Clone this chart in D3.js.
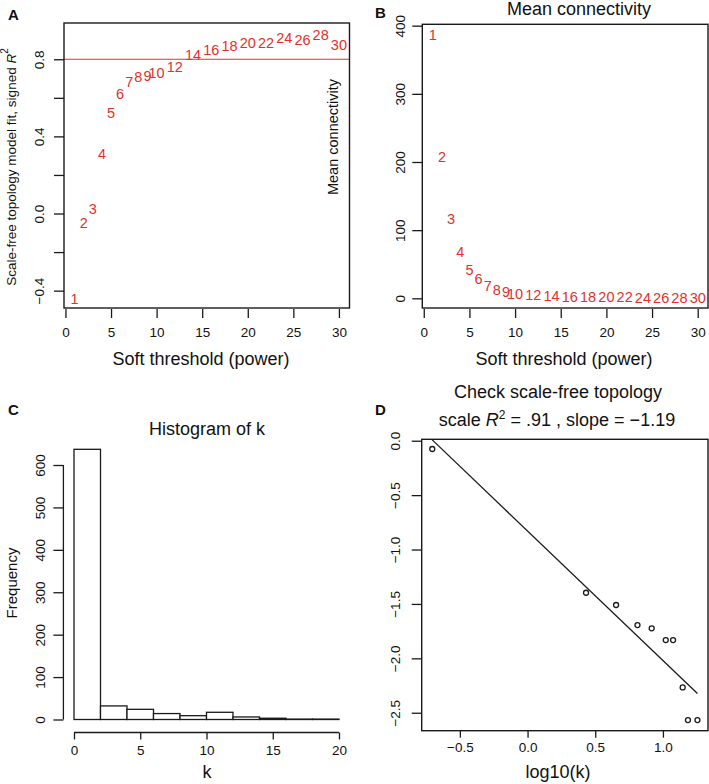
<!DOCTYPE html>
<html>
<head>
<meta charset="utf-8">
<script src="https://cdn.jsdelivr.net/npm/d3@7"></script>
<style>
body { margin: 0; background: #fff; }
svg text { font-family: "Liberation Sans", Arial, sans-serif; fill: #111; }
</style>
</head>
<body>
<div id="chart"></div>
<script>
// datos de los cuatro paneles
var powers = [1, 2, 3, 4, 5, 6, 7, 8, 9, 10, 12, 14, 16, 18, 20, 22, 24, 26, 28, 30];
var scaleFitR2 = [-0.44, -0.049, 0.026, 0.309, 0.524, 0.62, 0.684, 0.707, 0.714, 0.728,
                  0.762, 0.822, 0.848, 0.87, 0.884, 0.888, 0.909, 0.90, 0.926, 0.874];
var meanConnectivity = [387, 208, 117, 68, 42.5, 28, 18, 13.2, 9.7, 7.3,
                        4.8, 3.5, 2.8, 2.2, 1.9, 1.7, 1.5, 1.4, 1.3, 1.2];
var r2Cut = 0.8;
var histBreaks = [0, 2, 4, 6, 8, 10, 12, 14, 16, 18, 20];
var histCounts = [637, 32, 24, 14, 9, 17, 6, 3, 1, 1];
var logK = [-0.704, 0.432, 0.654, 0.812, 0.917, 1.021, 1.075, 1.146, 1.185, 1.255];
var logPk = [-0.076, -1.397, -1.51, -1.694, -1.724, -1.832, -1.832, -2.267, -2.567, -2.567];
var fitSlope = -1.19;
var fitIntercept = -0.83;
var fitR2Label = '.91';

var xTicksPower = [0, 5, 10, 15, 20, 25, 30];
var yTicksA = [-0.4, -0.2, 0, 0.2, 0.4, 0.6, 0.8];
var yTicksB = [0, 100, 200, 300, 400];
var xTicksC = [0, 5, 10, 15, 20];
var yTicksC = [0, 100, 200, 300, 400, 500, 600];
var xTicksD = [-0.5, 0, 0.5, 1.0];
var yTicksD = [0, -0.5, -1.0, -1.5, -2.0, -2.5];

var W = 709, H = 784;
var red = '#e3302b';
var ink = '#1a1a1a';

var svg = d3.select('#chart').append('svg')
    .attr('width', W)
    .attr('height', H);

//ejes: x con separacion, y con etiquetas giradas
function xAxis(g, scale, ticks, y, size, fmt) {
    var ax = g.append('g')
        .attr('transform', 'translate(0,' + y + ')')
        .call(d3.axisBottom(scale).tickValues(ticks).tickSize(size).tickPadding(9).tickFormat(fmt));
    ax.select('.domain').remove();
    ax.selectAll('line').attr('stroke', ink).attr('stroke-width', 1.3);
    ax.selectAll('text').attr('font-size', 13.5).attr('fill', ink)
        .style('font-family', '"Liberation Sans", Arial, sans-serif');
    return ax;
}

function yAxis(g, scale, ticks, x, off, fmt) {
    var ax = g.append('g')
        .attr('transform', 'translate(' + x + ',0)')
        .call(d3.axisLeft(scale).tickValues(ticks).tickSize(10).tickFormat(fmt));
    ax.select('.domain').remove();
    ax.selectAll('line').attr('stroke', ink).attr('stroke-width', 1.3);
    ax.selectAll('text')
        .attr('x', 0).attr('y', 0).attr('dy', '0.36em')
        .attr('text-anchor', 'middle')
        .attr('transform', 'translate(' + (-off) + ',0) rotate(-90)')
        .attr('font-size', 13.5).attr('fill', ink)
        .style('font-family', '"Liberation Sans", Arial, sans-serif');
    return ax;
}

function box(x0, y0, x1, y1) {
    svg.append('rect')
        .attr('x', x0).attr('y', y0)
        .attr('width', x1 - x0).attr('height', y1 - y0)
        .attr('fill', 'none').attr('stroke', ink).attr('stroke-width', 1.4);
}

function label(txt, x, y, size, opts) {
    var t = svg.append('text').attr('x', x).attr('y', y)
        .attr('font-size', size).attr('text-anchor', 'middle').text(txt);
    if (opts && opts.bold) t.attr('font-weight', 'bold').attr('text-anchor', 'start');
    return t;
}

function vlabel(x, y, size) {
    return svg.append('text')
        .attr('transform', 'translate(' + x + ',' + y + ') rotate(-90)')
        .attr('dy', '0.36em')
        .attr('text-anchor', 'middle')
        .attr('font-size', size);
}

var fmt1 = d3.format('.1f');

// ---------- Panel A ----------
var xA = d3.scaleLinear().domain([-0.16, 31.16]).range([64, 349.5]);
var yA = d3.scaleLinear().domain([-0.49, 0.988]).range([308, 23]);
var gA = svg.append('g');

box(64, 23, 349.5, 308);
gA.append('line')
    .attr('x1', xA.range()[0]).attr('x2', xA.range()[1])
    .attr('y1', yA(r2Cut)).attr('y2', yA(r2Cut))
    .attr('stroke', red).attr('stroke-width', 1.2);

gA.selectAll('text.pw')
    .data(powers)
    .enter()
    .append('text')
    .attr('class', 'pw')
    .attr('x', (d) => xA(d))
    .attr('y', (d, i) => yA(scaleFitR2[i]))
    .attr('dy', '0.36em')
    .attr('text-anchor', 'middle')
    .attr('font-size', 14.5)
    .style('fill', red)
    .text((d) => d);

xAxis(gA, xA, xTicksPower, 309, 9, d3.format('d'));
yAxis(gA, yA, yTicksA, 64, 25, function(d) {
    return (Math.round(d * 10) % 4 === 0) ? fmt1(d) : '';
});

label('Soft threshold (power)', 201, 365, 18);
var yl = vlabel(11.5, 167, 13.5);
yl.append('tspan').text('Scale-free topology model fit, signed ');
yl.append('tspan').attr('font-style', 'italic').text('R');
yl.append('tspan').attr('font-size', 10).attr('dy', '-0.8em').text('2');

// ---------- Panel B ----------
var xB = d3.scaleLinear().domain([-0.16, 31.16]).range([422.3, 708.3]);
var yB = d3.scaleLinear().domain([-14.2, 402]).range([308, 24.3]);
var gB = svg.append('g');

box(422.3, 24.3, 708, 308);
gB.selectAll('text.pw')
    .data(powers)
    .enter()
    .append('text')
    .attr('class', 'pw')
    .attr('x', (d) => xB(d))
    .attr('y', (d, i) => yB(meanConnectivity[i]))
    .attr('dy', '0.36em')
    .attr('text-anchor', 'middle')
    .attr('font-size', 14.5)
    .style('fill', red)
    .text((d) => d);

xAxis(gB, xB, xTicksPower, 309, 9, d3.format('d'));
yAxis(gB, yB, yTicksB, 422.3, 22.3, d3.format('d'));

label('Mean connectivity', 579, 15, 18);
label('Soft threshold (power)', 564, 365, 18);
vlabel(333, 137, 14.5).text('Mean connectivity');

// ---------- Panel C ----------
var xC = d3.scaleLinear().domain([-0.8, 20.8]).range([63.4, 349.6]);
var yC = d3.scaleLinear().domain([0, 600]).range([719.5, 465]);
var gC = svg.append('g');

var bins = histCounts.map((c, i) => ({x0: histBreaks[i], x1: histBreaks[i + 1], n: c}));
gC.selectAll('rect')
    .data(bins)
    .enter()
    .append('rect')
    .attr('x', (d) => xC(d.x0))
    .attr('y', (d) => yC(d.n))
    .attr('width', (d) => xC(d.x1) - xC(d.x0))
    .attr('height', (d) => yC(0) - yC(d.n))
    .attr('fill', '#fff')
    .attr('stroke', ink)
    .attr('stroke-width', 1.3);

var axC = xAxis(gC, xC, xTicksC, 732.5, 7, d3.format('d'));
axC.append('line')
    .attr('x1', xC(0)).attr('x2', xC(20))
    .attr('stroke', ink).attr('stroke-width', 1.3);
axC.selectAll('text').attr('y', 13);
var ayC = yAxis(gC, yC, yTicksC, 63.4, 23.4, d3.format('d'));
ayC.append('line')
    .attr('y1', yC(0)).attr('y2', yC(600))
    .attr('stroke', ink).attr('stroke-width', 1.3);

label('Histogram of k', 207, 435, 18);
label('k', 207, 778, 18);
vlabel(12, 583, 15).text('Frequency');

// ---------- Panel D ----------
var xD = d3.scaleLinear().domain([-0.782, 1.333]).range([421.7, 708]);
var yD = d3.scaleLinear().domain([-2.665, 0.013]).range([730.7, 439.3]);
var gD = svg.append('g');

box(421.7, 439.3, 708, 730.7);
var xr = d3.extent(logK);
gD.append('line')
    .attr('x1', xD(xr[0])).attr('y1', yD(fitIntercept + fitSlope * xr[0]))
    .attr('x2', xD(xr[1])).attr('y2', yD(fitIntercept + fitSlope * xr[1]))
    .attr('stroke', ink).attr('stroke-width', 1.3);

gD.selectAll('circle')
    .data(logK)
    .enter()
    .append('circle')
    .attr('cx', (d) => xD(d))
    .attr('cy', (d, i) => yD(logPk[i]))
    .attr('r', 2.5)
    .attr('fill', 'none')
    .attr('stroke', ink)
    .attr('stroke-width', 1.3);

var axD = xAxis(gD, xD, xTicksD, 730.7, 7, fmt1);
axD.selectAll('text').attr('y', 12);
yAxis(gD, yD, yTicksD, 421.7, 27, fmt1);

label('Check scale-free topology', 558, 398, 18);
var sub = label('', 557, 426, 18);
sub.append('tspan').text('scale ');
sub.append('tspan').attr('font-style', 'italic').text('R');
sub.append('tspan').attr('font-size', 12).attr('dy', '-0.55em').text('2');
sub.append('tspan').attr('dy', '0.37em').text(' = ' + fitR2Label + ' , slope = ' + d3.format('.2f')(fitSlope));
label('log10(k)', 558, 778, 18);

// letras de panel
label('A', 8, 20, 15, {bold: true});
label('B', 375, 18, 15, {bold: true});
label('C', 8, 415, 15, {bold: true});
label('D', 375, 415, 15, {bold: true});
</script>
</body>
</html>
